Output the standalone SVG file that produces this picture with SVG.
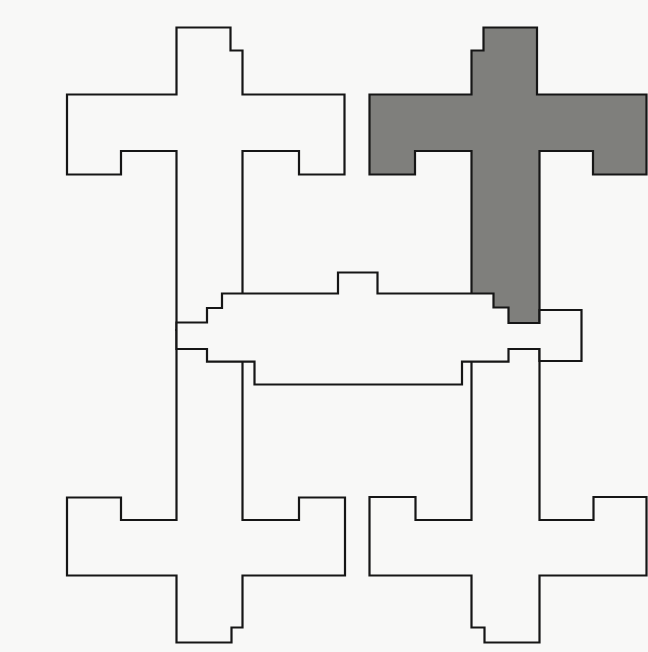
<svg xmlns="http://www.w3.org/2000/svg" width="648" height="652" viewBox="0 0 648 652">
<style>
.s{fill:#f8f8f7;stroke:#161616;stroke-width:2.2;stroke-linejoin:miter}
.g{fill:#7f7f7c}
</style>
<rect width="648" height="652" fill="#f8f8f7"/>
<g id="cross-top-left"><path class="s" d="M176.5,27.5 H230.5 V50.5 H242.5 V94.5 H344.5 V174.5 H299 V151 H242.5 V330 H176.5 V151 H121 V174.5 H67 V94.5 H176.5 Z"/></g>
<g id="cross-bottom-left"><path class="s" d="M176.5,330 V520 H121 V497.5 H67 V575.5 H176.5 V642.5 H231.5 V627.5 H242.5 V575.5 H345 V497.5 H299 V520 H242.5 V330 Z"/></g>
<g id="cross-bottom-right"><path class="s" d="M471.5,330 V520 H415.5 V497 H369.5 V575.5 H471.5 V627.5 H484.5 V642.5 H539.5 V575.5 H646.5 V497 H593.5 V520 H539.5 V330 Z"/></g>
<g id="cross-top-right"><path class="s g" d="M483.5,27.5 H537 V94.5 H646.5 V174.5 H593 V151 H539.5 V323 H471.5 V151 H415 V174.5 H369.5 V94.5 H471.5 V50.5 H483.5 Z"/></g>
<g id="middle"><path class="s" d="M176.5,322.5 H207 V308 H222 V293.5 H338 V272.5 H377.5 V293.5 H493.5 V307.5 H508.5 V323 H539.5 V310 H581.5 V361 H539.5 V349 H508.5 V361.7 H462 V384.5 H254.5 V361.7 H207 V349 H176.5 Z"/></g>
</svg>
